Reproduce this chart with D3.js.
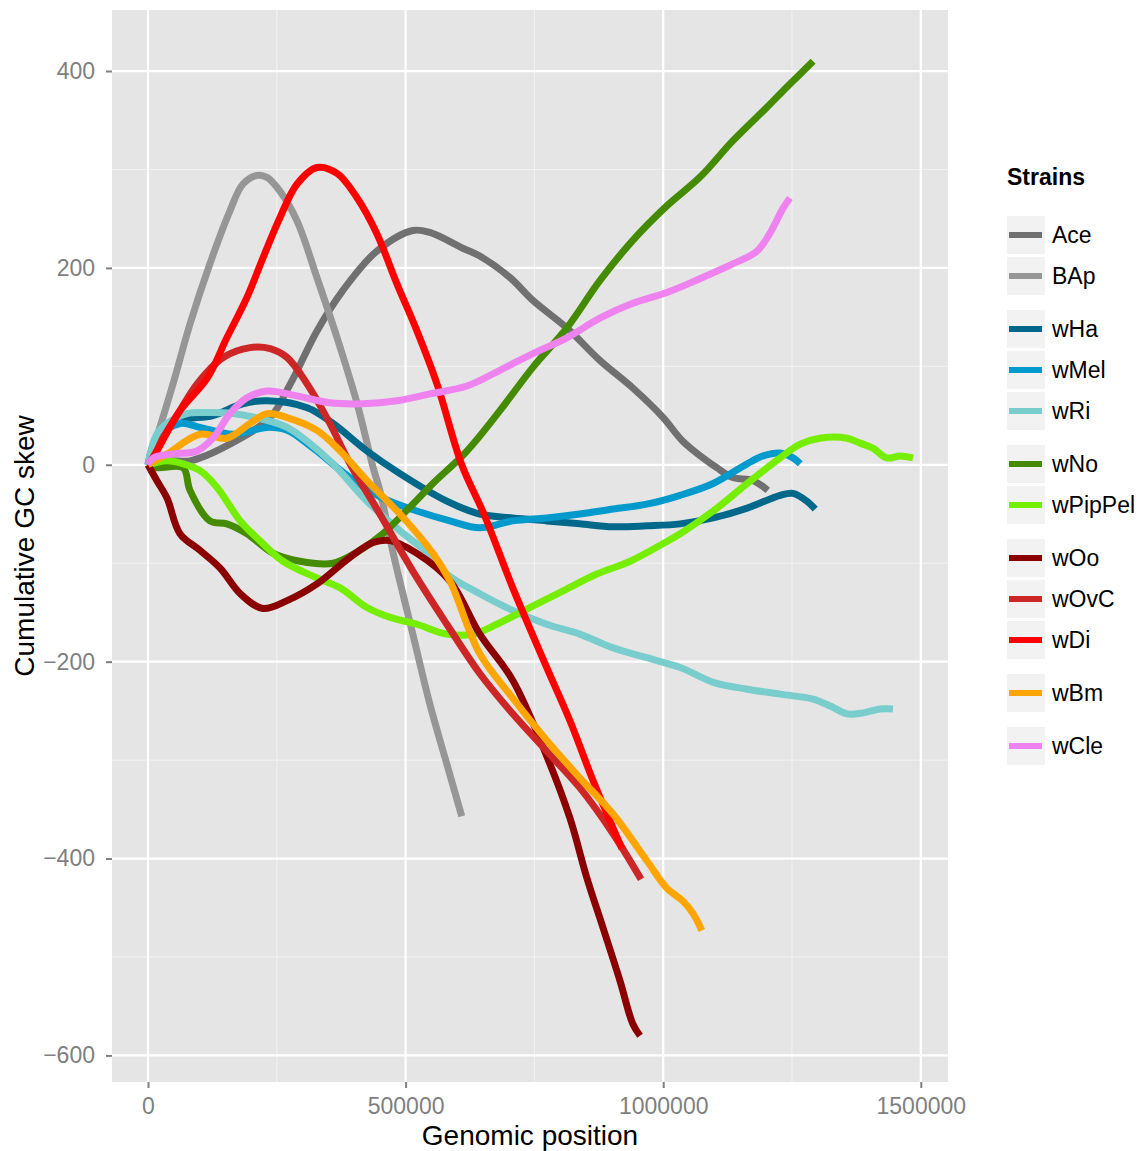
<!DOCTYPE html>
<html>
<head>
<meta charset="utf-8">
<script src="https://cdn.jsdelivr.net/npm/d3@7"></script>
<style>
  body { margin: 0; background: #fff; }
  text { font-family: "Liberation Sans", Arial, sans-serif; }
</style>
</head>
<body>
<div class="chart"></div>
<script>
var svgWidth = 1141;
var svgHeight = 1151;

// panel edges in the page
var margin = { top: 10, right: 193, bottom: 69, left: 112 };
var width = svgWidth - margin.left - margin.right;
var height = svgHeight - margin.top - margin.bottom;

// strains, in legend order, with their colours and legend group
var strains = ["Ace", "BAp", "wHa", "wMel", "wRi", "wNo", "wPipPel", "wOo", "wOvC", "wDi", "wBm", "wCle"];
var colors = ["#707070", "#969696", "#00688b", "#009acd", "#79cdcd", "#458b00", "#76ee00", "#8b0000", "#cd2626", "#ff0000", "#ffa500", "#ee82ee"];
var legendGroup = [0, 0, 1, 1, 1, 2, 2, 3, 3, 3, 4, 5];

var xTicks = [0, 500000, 1000000, 1500000];
var xMinor = [250000, 750000, 1250000];
var yTicks = [-600, -400, -200, 0, 200, 400];
var yMinor = [-500, -300, -100, 100, 300];

// [genomic position, cumulative GC skew]
var ace = [[0,0],[42700,4],[81500,4],[159000,21],[237000,48],[276000,82],[328000,136],[378000,177],[444000,217],[514000,238],[547000,236],[611000,220],[644000,212],[703000,190],[747000,167],[813000,139],[877000,106],[941000,78],[1000000,48],[1038000,24],[1104000,-3],[1135000,-13],[1174000,-16],[1203000,-26]];
var bap = [[0,0],[23000,38],[48500,82],[81500,143],[120000,204],[159000,258],[184000,285],[212000,294],[231000,292],[256000,278],[289000,248],[328000,190],[367000,129],[406000,62],[437000,-3],[450000,-26],[476000,-90],[514000,-172],[547000,-243],[580000,-304],[609000,-357]];
var wha = [[0,0],[29000,31],[62000,45],[126000,50],[184000,62],[231000,65],[309000,58],[359000,42],[425000,14],[489000,-9],[580000,-37],[644000,-50],[708000,-54],[774000,-57],[838000,-60],[903000,-63],[968000,-62],[1033000,-60],[1097000,-54],[1163000,-44],[1227000,-31],[1252000,-29],[1279000,-37],[1295000,-45]];
var wmel = [[0,0],[17000,27],[62000,42],[101000,38],[165000,31],[231000,38],[270000,35],[320000,17],[392000,-13],[456000,-34],[522000,-47],[586000,-57],[644000,-64],[708000,-57],[774000,-54],[838000,-50],[903000,-45],[968000,-40],[1033000,-31],[1097000,-19],[1163000,1],[1194000,9],[1227000,12],[1252000,7],[1266000,1]];
var wri = [[0,0],[17000,31],[37000,42],[76000,52],[115000,53],[165000,52],[231000,45],[270000,38],[309000,24],[359000,1],[425000,-37],[489000,-67],[553000,-94],[580000,-111],[644000,-131],[708000,-148],[774000,-162],[838000,-172],[903000,-186],[968000,-196],[1033000,-206],[1097000,-221],[1163000,-228],[1227000,-233],[1291000,-238],[1324000,-245],[1357000,-253],[1388000,-252],[1421000,-248],[1446000,-248]];
var wno = [[0,0],[17000,-3],[68000,-3],[81500,-26],[120000,-57],[153000,-60],[192000,-70],[243000,-90],[295000,-98],[359000,-100],[411000,-87],[456000,-70],[514000,-40],[553000,-19],[619000,14],[683000,55],[747000,99],[813000,139],[877000,187],[941000,228],[1007000,263],[1071000,292],[1135000,329],[1201000,363],[1233000,380],[1266000,397],[1291000,410]];
var wpippel = [[0,0],[37000,4],[68000,1],[101000,-6],[134000,-23],[179000,-57],[217000,-77],[262000,-98],[328000,-115],[373000,-125],[425000,-145],[470000,-155],[522000,-162],[580000,-172],[631000,-172],[677000,-162],[741000,-145],[806000,-128],[871000,-111],[936000,-98],[1000000,-80],[1033000,-70],[1097000,-47],[1163000,-19],[1227000,7],[1266000,21],[1304000,27],[1357000,27],[1382000,22],[1407000,17],[1434000,7],[1460000,9],[1485000,7]];
var woo = [[0,0],[17000,-16],[37000,-34],[62000,-70],[101000,-87],[140000,-105],[179000,-131],[223000,-146],[270000,-138],[328000,-121],[392000,-94],[437000,-79],[470000,-77],[522000,-90],[586000,-118],[644000,-172],[708000,-219],[774000,-296],[819000,-359],[852000,-420],[883000,-470],[916000,-524],[941000,-568],[955000,-580]];
var wovc = [[0,0],[10000,7],[29000,27],[62000,55],[95000,82],[146000,109],[198000,119],[237000,118],[270000,109],[309000,82],[353000,42],[392000,1],[450000,-50],[514000,-108],[580000,-162],[644000,-212],[708000,-253],[774000,-291],[838000,-328],[903000,-375],[957000,-421]];
var wdi = [[0,0],[17000,14],[62000,55],[115000,88],[153000,129],[192000,170],[223000,210],[256000,251],[289000,285],[328000,302],[367000,296],[406000,271],[444000,235],[483000,184],[522000,136],[561000,82],[609000,0],[652000,-50],[708000,-125],[774000,-206],[819000,-260],[864000,-321],[920000,-390]];
var wbm = [[0,0],[37000,11],[101000,31],[153000,27],[198000,42],[231000,52],[270000,48],[328000,35],[373000,14],[425000,-16],[489000,-50],[553000,-90],[586000,-118],[644000,-192],[708000,-237],[774000,-280],[838000,-318],[903000,-355],[968000,-402],[1007000,-430],[1038000,-443],[1058000,-456],[1075000,-473]];
var wcle = [[0,0],[10000,7],[49000,11],[95000,14],[126000,27],[159000,52],[192000,68],[231000,75],[289000,70],[353000,63],[417000,62],[483000,65],[547000,72],[619000,80],[683000,96],[747000,113],[813000,129],[877000,149],[941000,164],[1007000,175],[1071000,189],[1135000,204],[1182000,217],[1207000,235],[1233000,261],[1246000,271]];

var series = [ace, bap, wha, wmel, wri, wno, wpippel, woo, wovc, wdi, wbm, wcle];

var svg = d3.select(".chart")
  .append("svg")
  .attr("width", svgWidth)
  .attr("height", svgHeight);

var chartGroup = svg.append("g")
  .attr("transform", `translate(${margin.left}, ${margin.top})`);

var xScale = d3.scaleLinear()
  .domain([-69900, 1552800])
  .range([0, width]);

var yScale = d3.scaleLinear()
  .domain([-627, 462])
  .range([height, 0]);

// panel background
chartGroup.append("rect")
  .attr("width", width)
  .attr("height", height)
  .attr("fill", "#e5e5e5");

// minor grid
chartGroup.selectAll(".xminor").data(xMinor).enter().append("line")
  .attr("x1", d => xScale(d)).attr("x2", d => xScale(d))
  .attr("y1", 0).attr("y2", height)
  .attr("stroke", "#f2f2f2").attr("stroke-width", 1);
chartGroup.selectAll(".yminor").data(yMinor).enter().append("line")
  .attr("y1", d => yScale(d)).attr("y2", d => yScale(d))
  .attr("x1", 0).attr("x2", width)
  .attr("stroke", "#f2f2f2").attr("stroke-width", 1);

// major grid
chartGroup.selectAll(".xmajor").data(xTicks).enter().append("line")
  .attr("x1", d => xScale(d)).attr("x2", d => xScale(d))
  .attr("y1", 0).attr("y2", height)
  .attr("stroke", "#ffffff").attr("stroke-width", 2.2);
chartGroup.selectAll(".ymajor").data(yTicks).enter().append("line")
  .attr("y1", d => yScale(d)).attr("y2", d => yScale(d))
  .attr("x1", 0).attr("x2", width)
  .attr("stroke", "#ffffff").attr("stroke-width", 2.2);

// axes
var minus = d => d3.format("d")(d).replace("-", "\u2212");
var bottomAxis = d3.axisBottom(xScale).tickValues(xTicks).tickFormat(d3.format("d")).tickSize(6).tickPadding(10);
var leftAxis = d3.axisLeft(yScale).tickValues(yTicks).tickFormat(minus).tickSize(6).tickPadding(11);

var xAxis = chartGroup.append("g")
  .attr("transform", `translate(0, ${height})`)
  .call(bottomAxis);
var yAxis = chartGroup.append("g")
  .call(leftAxis);

[xAxis, yAxis].forEach(function(ax) {
  ax.select(".domain").remove();
  ax.selectAll(".tick line").attr("stroke", "#7f7f7f").attr("stroke-width", 2);
  ax.selectAll(".tick text")
    .attr("fill", "#7f7f7f")
    .style("font-size", "23px");
});

// lines
var line = d3.line()
  .x(d => xScale(d[0]))
  .y(d => yScale(d[1]))
  .curve(d3.curveCatmullRom.alpha(0.5));

chartGroup.selectAll(".strain")
  .data(series)
  .enter()
  .append("path")
  .attr("d", line)
  .attr("fill", "none")
  .attr("stroke", (d, i) => colors[i])
  .attr("stroke-width", 7)
  .attr("stroke-linejoin", "round");

// axis titles
svg.append("text")
  .attr("x", margin.left + width / 2)
  .attr("y", 1145)
  .attr("text-anchor", "middle")
  .style("font-size", "28px")
  .text("Genomic position");

svg.append("text")
  .attr("transform", `translate(34, ${margin.top + height / 2}) rotate(-90)`)
  .attr("text-anchor", "middle")
  .style("font-size", "28px")
  .text("Cumulative GC skew");

// legend
var legend = svg.append("g")
  .attr("transform", "translate(1007, 0)");

legend.append("text")
  .attr("x", 0)
  .attr("y", 185)
  .style("font-size", "23px")
  .style("font-weight", "bold")
  .text("Strains");

var keys = legend.selectAll(".key")
  .data(strains)
  .enter()
  .append("g")
  .attr("transform", (d, i) => `translate(0, ${235 + i * 41 + legendGroup[i] * 12})`);

keys.append("rect")
  .attr("x", 0).attr("y", -19)
  .attr("width", 38).attr("height", 38)
  .attr("fill", "#f2f2f2");

keys.append("line")
  .attr("x1", 2).attr("x2", 35)
  .attr("y1", 0).attr("y2", 0)
  .attr("stroke", (d, i) => colors[i])
  .attr("stroke-width", 6);

keys.append("text")
  .attr("x", 45)
  .attr("y", 0)
  .attr("dy", "0.35em")
  .style("font-size", "23px")
  .text(d => d);
</script>
</body>
</html>
